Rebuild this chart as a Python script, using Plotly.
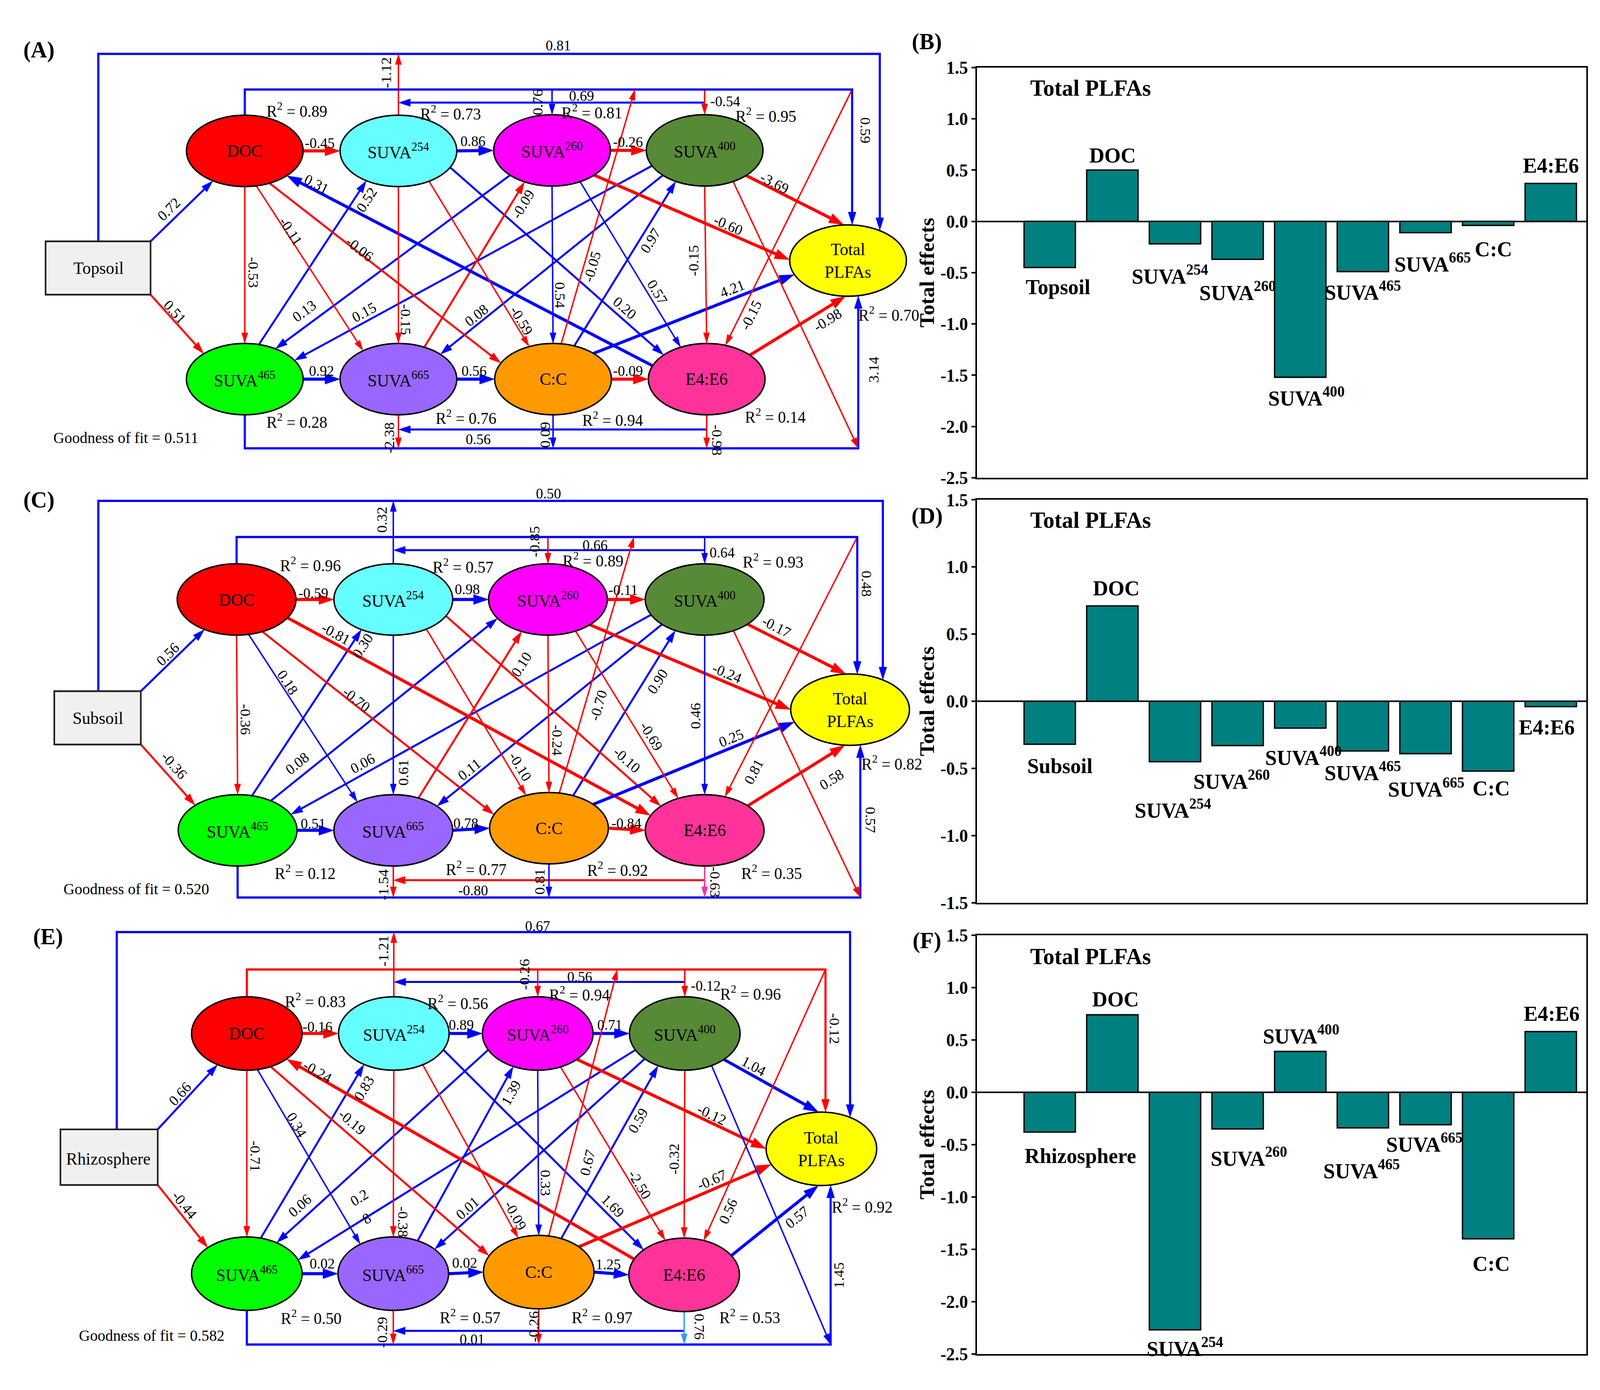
import math
import plotly.graph_objects as go

S = 2.725                      # screen pixels per layout unit
FIG_W, FIG_H = 4257, 3558
UW, UH = FIG_W / S, FIG_H / S
SERIF = "Liberation Serif"

BLUE, RED, PINK, LBLUE = "#0000ff", "#ff0000", "#ff3399", "#3399ff"
TEAL = "#008080"
TH, RT, MD, TN = 2.9, 2.1, 1.9, 1.4   # line-width classes (layout units)

# ---------------- (B)(D)(F): total effects on Total PLFAs ----------------
bar_names_B = ["Topsoil", "DOC", "SUVA<sup>254</sup>", "SUVA<sup>260</sup>", "SUVA<sup>400</sup>",
               "SUVA<sup>465</sup>", "SUVA<sup>665</sup>", "C:C", "E4:E6"]
bar_names_D = ["Subsoil"] + bar_names_B[1:]
bar_names_F = ["Rhizosphere"] + bar_names_B[1:]
total_effects_B = [-0.45, 0.50, -0.22, -0.37, -1.52, -0.49, -0.11, -0.04, 0.37]
total_effects_D = [-0.32, 0.71, -0.45, -0.33, -0.20, -0.37, -0.39, -0.52, -0.04]
total_effects_F = [-0.38, 0.74, -2.27, -0.35, 0.39, -0.34, -0.31, -1.40, 0.58]
ticks_BF = [1.5, 1.0, 0.5, 0.0, -0.5, -1.0, -1.5, -2.0, -2.5]
ticks_D = [1.5, 1.0, 0.5, 0.0, -0.5, -1.0, -1.5]

# label offsets (style only): dx, dy in layout units from bar end
lab_dx_B = [8, 0, -5, 0, 6, 0, 7, 5, 0]
lab_dy_B = [18, -14, 29, 30, 18, 18, 28, 22, -17]
lab_dx_D = [10, 4, -2, -6, 3, 0, 1, 3, -4]
lab_dy_D = [20, -17, 44, 32, 26, 19, 32, 16, 19]
lab_dx_F = [30, 3, 10, 11, 1, -1, -1, 3, 1]
lab_dy_F = [22, -15, 16, 26, -16, 39, 17, 23, -17]

# ---------------- (A)(C)(E): SEM path coefficients ----------------
coef_A = {
    "Box>DOC": 0.72, "Box>S465": 0.51, "DOC>S254": -0.45, "S254>S260": 0.86, "S260>S400": -0.26,
    "S465>S665": 0.92, "S665>CC": 0.56, "CC>E46": -0.09, "DOC>S465": -0.53, "DOC>S665": -0.11,
    "DOC>CC": -0.06, "E46>DOC": 0.31, "S465>S254": 0.52, "S254>S665": -0.15, "S254>CC": -0.59,
    "S254>E46": 0.20, "S260>S465": 0.13, "S665>S260": -0.09, "S260>CC": 0.54, "S260>E46": 0.57,
    "S260>TP": -0.60, "S400>S465": 0.15, "S400>S665": 0.08, "CC>S400": 0.97, "S400>E46": -0.15,
    "S400>TP": -3.69, "CC>TP": 4.21, "E46>TP": -0.98, "S400>BR": None, "Box>TP": 0.81,
    "DOC>TP": 0.59, "DOC>S260": 0.76, "DOC>S400": -0.54, "CC>TOP": -0.05, "TR>E46": -0.15,
    "S400>S254": 0.69, "S254>Box": -1.12, "S465>TP": 3.14, "E46>S665": 0.56, "S665>S465": -2.38,
    "CC>S465": 0.09, "E46>S465": -0.98,
}
coef_C = {
    "Box>DOC": 0.56, "Box>S465": -0.36, "DOC>S254": -0.59, "S254>S260": 0.98, "S260>S400": -0.11,
    "S465>S665": 0.51, "S665>CC": 0.78, "CC>E46": -0.84, "DOC>S465": -0.36, "DOC>S665": 0.18,
    "DOC>CC": -0.70, "DOC>E46": -0.81, "S465>S254": 0.30, "S254>S665": 0.61, "S465>S260": 0.08,
    "S400>S465": 0.06, "S665>S260": 0.10, "S400>S665": 0.11, "S254>CC": -0.10, "S260>CC": -0.24,
    "CC>TOP": -0.70, "CC>S400": 0.90, "S254>E46": -0.10, "S260>E46": -0.69, "S400>E46": 0.46,
    "S260>TP": -0.24, "S400>TP": -0.17, "CC>TP": 0.25, "E46>TP": 0.58, "TR>E46": 0.81,
    "S400>BR": None, "Box>TP": 0.50, "DOC>TP": 0.48, "DOC>S260": -0.85, "DOC>S400": 0.64,
    "S400>S254": 0.66, "S254>Box": 0.32, "S465>TP": 0.57, "E46>S665": -0.80, "S665>S465": -1.54,
    "CC>S465": 0.81, "E46>S465": -0.63,
}
coef_E = {
    "Box>DOC": 0.66, "Box>S465": -0.44, "DOC>S254": -0.16, "S254>S260": 0.89, "S260>S400": 0.71,
    "S465>S665": 0.02, "S665>CC": 0.02, "CC>E46": 1.25, "DOC>S465": -0.71, "DOC>S665": 0.34,
    "DOC>CC": -0.19, "E46>DOC": -0.24, "S465>S254": 0.83, "S254>S665": -0.38, "S260>S465": 0.06,
    "S400>S465": 0.28, "S665>S260": 1.39, "S400>S665": 0.01, "S254>CC": -0.09, "S260>CC": 0.33,
    "CC>TOP": 0.67, "CC>S400": 0.59, "S254>E46": 1.69, "S260>E46": -2.50, "S400>E46": -0.32,
    "S260>TP": -0.12, "S400>TP": 1.04, "CC>TP": -0.67, "E46>TP": 0.57, "TR>E46": 0.56,
    "S400>BR": None, "Box>TP": 0.67, "DOC>TP": -0.12, "DOC>S260": -0.26, "DOC>S400": -0.12,
    "S400>S254": 0.56, "S254>Box": -1.21, "S465>TP": 1.45, "E46>S665": 0.01, "S665>S465": -0.29,
    "CC>S465": -0.26, "E46>S465": 0.76,
}
r2_A = {"DOC": 0.89, "S254": 0.73, "S260": 0.81, "S400": 0.95, "TP": 0.70,
        "S465": 0.28, "S665": 0.76, "CC": 0.94, "E46": 0.14}
r2_C = {"DOC": 0.96, "S254": 0.57, "S260": 0.89, "S400": 0.93, "TP": 0.82,
        "S465": 0.12, "S665": 0.77, "CC": 0.92, "E46": 0.35}
r2_E = {"DOC": 0.83, "S254": 0.56, "S260": 0.94, "S400": 0.96, "TP": 0.92,
        "S465": 0.50, "S665": 0.57, "CC": 0.97, "E46": 0.53}
goodness_of_fit = [0.511, 0.520, 0.582]
soil_layers = ["Topsoil", "Subsoil", "Rhizosphere"]

node_text = {"DOC": "DOC", "S254": "SUVA<sup>254</sup>", "S260": "SUVA<sup>260</sup>",
             "S400": "SUVA<sup>400</sup>", "TP": "Total<br>PLFAs", "S465": "SUVA<sup>465</sup>",
             "S665": "SUVA<sup>665</sup>", "CC": "C:C", "E46": "E4:E6"}
node_fill = {"DOC": "#ff0000", "S254": "#66ffff", "S260": "#ff00ff", "S400": "#578a36",
             "TP": "#ffff00", "S465": "#00ff00", "S665": "#9966ff", "CC": "#ff9900", "E46": "#ff3399"}

# ---------------- diagram layout (positions / styles) ----------------
panel_A = dict(
    nodes={"DOC": (239, 134.5), "S254": (389, 134.5), "S260": (539, 134), "S400": (688, 134),
           "TP": (828, 239), "S465": (239, 352), "S665": (389, 352), "CC": (540, 352), "E46": (690, 352)},
    rx=57, ry=34, box=(44.5, 220.7, 147, 271.5), box_line_x=96, box_text=(96, 246),
    letter=("(A)", 38, 38),
    r2pos={"DOC": (290, 95.5), "S254": (440, 98), "S260": (578, 97), "S400": (748, 100.4), "TP": (868, 290),
           "S465": (290, 392), "S665": (455, 388), "CC": (598, 390), "E46": (757, 387)},
    gof_pos=(123, 408),
)
geom_A = {
    "Box>DOC": ([("box", "tr"), ("DOC", 123)], BLUE, MD, [(165, 190, None)]),
    "Box>S465": ([("box", "br"), ("S465", 225.4)], RED, MD, [(171, 288, None)]),
    "DOC>S254": ([("DOC", 0), ("S254", 180)], RED, TH, [(312, 127, 0)]),
    "S254>S260": ([("S254", 0), ("S260", 180)], BLUE, TH, [(462, 125, 0)]),
    "S260>S400": ([("S260", 0), ("S400", 180)], RED, TH, [(613, 126, 0)]),
    "S465>S665": ([("S465", 0), ("S665", 180)], BLUE, TH, [(314, 344, 0)]),
    "S665>CC": ([("S665", 0), ("CC", 180)], BLUE, TH, [(463, 344, 0)]),
    "CC>E46": ([("CC", 0), ("E46", 180)], RED, TH, [(613, 344, 0)]),
    "DOC>S465": ([("DOC", 90), ("S465", 270)], RED, TN, [(247, 250, 90)]),
    "DOC>S665": ([("DOC", 78.6), ("S665", 232.8)], RED, TN, [(284, 211, None)]),
    "DOC>CC": ([("DOC", 64.9), ("CC", 206.6)], RED, MD, [(351, 228, None)]),
    "E46>DOC": ([("E46", 202), ("DOC", 44)], BLUE, TH, [(309, 166, None)]),
    "S465>S254": ([("S465", 284), ("S254", 123.3)], BLUE, MD, [(358, 181, None)]),
    "S254>S665": ([("S254", 90), ("S665", 270)], RED, TN, [(396, 295, 90)]),
    "S254>CC": ([("S254", 58.3), ("CC", 245.8)], RED, TN, [(509, 296, None)]),
    "S254>E46": ([("S254", 27.5), ("E46", 222.5)], BLUE, MD, [(610, 284, None)]),
    "S260>S465": ([("S260", 135.9), ("S465", 301.7)], BLUE, MD, [(297, 287, None)]),
    "S665>S260": ([("S665", 296.4), ("S260", 118)], RED, MD, [(510.6, 185.4, None)]),
    "S260>CC": ([("S260", 90), ("CC", 270)], BLUE, TN, [(547, 272, 90)]),
    "S260>E46": ([("S260", 61.3), ("E46", 243.5)], BLUE, TN, [(642, 269, None)]),
    "S260>TP": ([("S260", 43.9), ("TP", 181)], RED, TH, [(711, 205, None)]),
    "S400>S465": ([("S400", 154.4), ("S465", 328.4)], BLUE, MD, [(355.5, 288, None)]),
    "S400>S665": ([("S400", 135.8), ("S665", 315.9)], BLUE, MD, [(465, 291, None)]),
    "CC>S400": ([("CC", 291.3), ("S400", 119.6)], BLUE, MD, [(635, 220, None)]),
    "S400>E46": ([("S400", 90), ("E46", 270)], RED, TN, [(677, 239, -90)]),
    "S400>TP": ([("S400", 44.7), ("TP", 266)], RED, TH, [(756, 165, None)]),
    "CC>TP": ([("CC", 313.9), ("TP", 156.9)], BLUE, TH, [(715, 266, None)]),
    "E46>TP": ([("E46", 317.7), ("TP", 92.4)], RED, TH, [(808, 295.5, None)]),
    "S400>BR": ([("S400", 60.8), (838, 418)], RED, TN, []),
    "Box>TP": ([("box", "top"), ("V", 42), (859, 42), ("Tx", "TP")], BLUE, RT, [(545, 34, 0)]),
    "DOC>TP": ([("T", "DOC"), ("V", 76), (832, 76), ("Tx", "TP")], BLUE, RT, [(845, 115, 90)]),
    "DOC>S260": ([("X", "S260", 76), ("T", "S260")], BLUE, TN, [(525, 88, -90)]),
    "DOC>S400": ([("X", "S400", 76), ("T", "S400")], RED, TN, [(708, 87, 0)]),
    "CC>TOP": ([("CC", 278), (620, 76)], RED, TN, [(578, 245, None)]),
    "TR>E46": ([(832, 76), ("E46", 288.7)], RED, TN, [(733, 291, None)]),
    "S400>S254": ([("X", "S400", 88.5), ("X", "S254", 88.5)], BLUE, MD, [(568, 82, 0)]),
    "S254>Box": ([("T", "S254"), ("V", 42)], RED, TN, [(377, 60, -90)]),
    "S465>TP": ([("B", "S465"), ("V", 418), (838, 418), ("Bx", "TP")], BLUE, RT, [(853, 343, -90)]),
    "E46>S665": ([("X", "E46", 400), ("X", "S665", 400)], BLUE, MD, [(467, 409, 0)]),
    "S665>S465": ([("B", "S665"), ("V", 418)], RED, TN, [(380, 408, -90)]),
    "CC>S465": ([("B", "CC"), ("V", 418)], BLUE, TN, [(532, 405, -90)]),
    "E46>S465": ([("B", "E46"), ("V", 418)], RED, TN, [(700, 410, 90)]),
}

panel_C = dict(
    nodes={"DOC": (231, 562), "S254": (384, 562), "S260": (535, 562), "S400": (688, 562),
           "TP": (830, 667), "S465": (232, 782), "S665": (384, 782), "CC": (536, 780), "E46": (688, 782)},
    rx=58, ry=34, box=(53, 649.4, 137.5, 700.2), box_line_x=96, box_text=(95.5, 675),
    letter=("(C)", 38, 467),
    r2pos={"DOC": (303, 528.5), "S254": (452, 530), "S260": (579, 524), "S400": (755, 525), "TP": (871, 717.6),
           "S465": (298, 822), "S665": (465, 818), "CC": (603, 819), "E46": (753.5, 822)},
    gof_pos=(133, 838),
)
geom_C = {
    "Box>DOC": ([("box", "tr"), ("DOC", 122.7)], BLUE, MD, [(164, 614, None)]),
    "Box>S465": ([("box", "br"), ("S465", 224.5)], RED, MD, [(170, 720, None)]),
    "DOC>S254": ([("DOC", 0), ("S254", 180)], RED, TH, [(306, 556, 0)]),
    "S254>S260": ([("S254", 0), ("S260", 180)], BLUE, TH, [(456.5, 552, 0)]),
    "S260>S400": ([("S260", 0), ("S400", 180)], RED, TH, [(608.6, 553, 0)]),
    "S465>S665": ([("S465", 0), ("S665", 180)], BLUE, TH, [(305.7, 775.6, 0)]),
    "S665>CC": ([("S665", 0), ("CC", 180)], BLUE, TH, [(455, 775, 0)]),
    "CC>E46": ([("CC", 0), ("E46", 180)], RED, TH, [(611.6, 775, 0)]),
    "DOC>S465": ([("DOC", 90), ("S465", 270)], RED, TN, [(240, 676, 90)]),
    "DOC>S665": ([("DOC", 78.3), ("S665", 232.8)], BLUE, TN, [(281, 641, None)]),
    "DOC>CC": ([("DOC", 64.3), ("CC", 202.4)], RED, MD, [(348, 657, None)]),
    "DOC>E46": ([("DOC", 30.9), ("E46", 204.5)], RED, TH, [(328, 594.5, None)]),
    "S465>S254": ([("S465", 284), ("S254", 122.4)], BLUE, MD, [(354, 606, None)]),
    "S254>S665": ([("S254", 90), ("S665", 270)], BLUE, TN, [(393.5, 727, -90)]),
    "S465>S260": ([("S465", 304), ("S260", 148.1)], BLUE, MD, [(290, 718, None)]),
    "S400>S465": ([("S400", 154.6), ("S465", 333.6)], BLUE, MD, [(354, 718, None)]),
    "S665>S260": ([("S665", 295.1), ("S260", 116.3)], RED, MD, [(509, 624, None)]),
    "S400>S665": ([("S400", 135.8), ("S665", 317.4)], BLUE, MD, [(458, 724, None)]),
    "S254>CC": ([("S254", 56.1), ("CC", 247.2)], RED, TN, [(508, 721, None)]),
    "S260>CC": ([("S260", 90), ("CC", 270)], RED, TN, [(544, 696, 90)]),
    "CC>TOP": ([("CC", 280), (619, 502.5)], RED, TN, [(584, 663, None)]),
    "CC>S400": ([("CC", 294), ("S400", 119.6)], BLUE, MD, [(642, 640, None)]),
    "S254>E46": ([("S254", 27.5), ("E46", 222.5)], RED, MD, [(612, 715, None)]),
    "S260>E46": ([("S260", 62.3), ("E46", 243.6)], RED, TN, [(636, 692, None)]),
    "S400>E46": ([("S400", 90), ("E46", 270)], BLUE, TN, [(679, 673, -90)]),
    "S260>TP": ([("S260", 45.1), ("TP", 180)], RED, TH, [(710, 632, None)]),
    "S400>TP": ([("S400", 43.8), ("TP", 266)], RED, TH, [(758, 588, None)]),
    "CC>TP": ([("CC", 318.1), ("TP", 159.8)], BLUE, TH, [(714, 694, None)]),
    "E46>TP": ([("E46", 316.5), ("TP", 95)], RED, TH, [(812, 733.5, None)]),
    "TR>E46": ([(837, 502.5), ("E46", 289.9)], RED, TN, [(736, 726, None)]),
    "S400>BR": ([("S400", 61), (840, 846)], RED, TN, []),
    "Box>TP": ([("box", "top"), ("V", 468), (862, 468), ("Tx", "TP")], BLUE, RT, [(535.5, 461, 0)]),
    "DOC>TP": ([("T", "DOC"), ("V", 502.5), (837, 502.5), ("Tx", "TP")], BLUE, RT, [(846, 547, 90)]),
    "DOC>S260": ([("X", "S260", 502.5), ("T", "S260")], RED, TN, [(522, 507, -90)]),
    "DOC>S400": ([("X", "S400", 502.5), ("T", "S400")], BLUE, TN, [(705, 517, 0)]),
    "S400>S254": ([("X", "S400", 515), ("X", "S254", 515)], BLUE, MD, [(581, 510, 0)]),
    "S254>Box": ([("T", "S254"), ("V", 468)], BLUE, TN, [(373, 486, -90)]),
    "S465>TP": ([("B", "S465"), ("V", 846), (840, 846), ("Bx", "TP")], BLUE, RT, [(850, 772, 90)]),
    "E46>S665": ([("X", "E46", 829.5), ("X", "S665", 829.5)], RED, MD, [(462, 839, 0)]),
    "S665>S465": ([("B", "S665"), ("V", 846)], RED, TN, [(374.5, 834, -90)]),
    "CC>S465": ([("B", "CC"), ("V", 846)], BLUE, TN, [(527, 831, -90)]),
    "E46>S465": ([("B", "E46"), ("V", 846)], PINK, TN, [(698, 831, 90)]),
}

panel_E = dict(
    nodes={"DOC": (241, 975.6), "S254": (384.5, 975.6), "S260": (525, 975.6), "S400": (668.6, 975.6),
           "TP": (802, 1085.5), "S465": (241, 1204.5), "S665": (384, 1204.5), "CC": (526, 1203),
           "E46": (668, 1205.6)},
    rx=54, ry=35, box=(59, 1067, 154, 1120), box_line_x=114, box_text=(106, 1095),
    letter=("(E)", 47, 883),
    r2pos={"DOC": (308, 944), "S254": (447, 946), "S260": (566, 937.7), "S400": (733, 937), "TP": (842, 1140),
           "S465": (304, 1246), "S665": (459, 1245), "CC": (588, 1245), "E46": (732, 1245)},
    gof_pos=(148, 1263.5),
)
geom_E = {
    "Box>DOC": ([("box", "tr"), ("DOC", 121.9)], BLUE, MD, [(175.5, 1033, None)]),
    "Box>S465": ([("box", "br"), ("S465", 225.1)], RED, MD, [(180, 1139, None)]),
    "DOC>S254": ([("DOC", 0), ("S254", 180)], RED, TH, [(310, 969.3, 0)]),
    "S254>S260": ([("S254", 0), ("S260", 180)], BLUE, TH, [(450.6, 967.2, 0)]),
    "S260>S400": ([("S260", 0), ("S400", 180)], BLUE, TH, [(595.5, 967.2, 0)]),
    "S465>S665": ([("S465", 0), ("S665", 180)], BLUE, TH, [(314.5, 1194.8, 0)]),
    "S665>CC": ([("S665", 0), ("CC", 180)], BLUE, TH, [(453.6, 1194, 0)]),
    "CC>E46": ([("CC", 0), ("E46", 180)], BLUE, TH, [(594, 1195.5, 0)]),
    "DOC>S465": ([("DOC", 90), ("S465", 270)], RED, TN, [(249, 1092.5, 90)]),
    "DOC>S665": ([("DOC", 79), ("S665", 233.3)], BLUE, TN, [(289.6, 1062.7, None)]),
    "DOC>CC": ([("DOC", 64.5), ("CC", 206.3)], RED, MD, [(343.8, 1060, None)]),
    "E46>DOC": ([("E46", 205.3), ("DOC", 44.2)], RED, TH, [(310, 1012, None)]),
    "S465>S254": ([("S465", 284.6), ("S254", 122.6)], BLUE, MD, [(355.5, 1027.6, None)]),
    "S254>S665": ([("S254", 90), ("S665", 270)], RED, TN, [(393.5, 1155, 90)]),
    "S260>S465": ([("S260", 153.5), ("S465", 302.6)], BLUE, MD, [(292.6, 1139.5, None)]),
    "S400>S465": ([("S400", 153.3), ("S465", 338)], BLUE, MD,
                  [("0.2", 351, 1132, None), ("8", 358, 1152, None)]),
    "S665>S260": ([("S665", 296.2), ("S260", 116.2)], BLUE, MD, [(499, 1032, None)]),
    "S400>S665": ([("S400", 136.4), ("S665", 318.3)], BLUE, MD, [(456.5, 1141.8, None)]),
    "S254>CC": ([("S254", 58.4), ("CC", 248.2)], RED, TN, [(503.3, 1149, None)]),
    "S260>CC": ([("S260", 90), ("CC", 270)], BLUE, TN, [(532.6, 1118, 90)]),
    "CC>TOP": ([("CC", 280.4), (602.8, 914.6)], RED, TN, [(573.5, 1098.5, None)]),
    "CC>S400": ([("CC", 294), ("S400", 118.8)], BLUE, MD, [(623, 1058.5, None)]),
    "S254>E46": ([("S254", 26.3), ("E46", 222.9)], BLUE, MD, [(598.4, 1140, None)]),
    "S260>E46": ([("S260", 65.6), ("E46", 250)], RED, TN, [(624.7, 1119.4, None)]),
    "S400>E46": ([("S400", 90), ("E46", 270)], RED, TN, [(658.4, 1095.5, -90)]),
    "S260>TP": ([("S260", 44.7), ("TP", 180)], RED, TH, [(695, 1053, None)]),
    "S400>TP": ([("S400", 45), ("TP", 267)], BLUE, TH, [(736, 1006.6, None)]),
    "CC>TP": ([("CC", 316.5), ("TP", 154.9)], RED, TH, [(695, 1115, None)]),
    "E46>TP": ([("E46", 328.5), ("TP", 93)], BLUE, TH, [(778, 1150.7, None)]),
    "TR>E46": ([(806, 914.6), ("E46", 290.7)], RED, TN, [(711, 1145, None)]),
    "S400>BR": ([("S400", 61), (811, 1272)], BLUE, TN, []),
    "Box>TP": ([("box", "top"), ("V", 879), (830, 879), ("Tx", "TP")], BLUE, RT, [(525, 873, 0)]),
    "DOC>TP": ([("T", "DOC"), ("V", 914.6), (806, 914.6), ("Tx", "TP")], RED, RT, [(815, 971, 90)]),
    "DOC>S260": ([("X", "S260", 914.6), ("T", "S260")], RED, TN, [(512, 919.5, -90)]),
    "DOC>S400": ([("X", "S400", 914.6), ("T", "S400")], RED, TN, [(689, 930, 0)]),
    "S400>S254": ([("X", "S400", 926.5), ("X", "S254", 926.5)], BLUE, MD, [(566, 921.6, 0)]),
    "S254>Box": ([("T", "S254"), ("V", 879)], RED, TN, [(374.5, 897, -90)]),
    "S465>TP": ([("B", "S465"), ("V", 1272), (811, 1272), ("Bx", "TP")], BLUE, RT, [(819, 1206, -90)]),
    "E46>S665": ([("X", "E46", 1259), ("X", "S665", 1259)], BLUE, MD, [(461, 1267, 0)]),
    "S665>S465": ([("B", "S665"), ("V", 1272)], RED, TN, [(373, 1260.5, -90)]),
    "CC>S465": ([("B", "CC"), ("V", 1272)], RED, TN, [(521, 1255, -90)]),
    "E46>S465": ([("B", "E46"), ("V", 1272)], LBLUE, TN, [(683, 1255, 90)]),
}


def resolve(path, P):
    nodes, rx, ry = P["nodes"], P["rx"], P["ry"]
    bx0, by0, bx1, by1 = P["box"]
    pts = []
    for p in path:
        k = p[0]
        if k == "box":
            pt = {"tr": (bx1, by0), "br": (bx1, by1), "top": (P["box_line_x"], by0)}[p[1]]
        elif k in ("T", "B", "Tx", "Bx"):
            cx, cy = nodes[p[1]]
            x = cx if k in ("T", "B") else pts[-1][0]
            h = ry * math.sqrt(max(0.0, 1 - ((x - cx) / rx) ** 2))
            pt = (x, cy - h if k.startswith("T") else cy + h)
        elif k == "V":
            pt = (pts[-1][0], p[1])
        elif k == "X":
            pt = (nodes[p[1]][0], p[2])
        elif isinstance(k, str):
            cx, cy = nodes[k]
            a = math.radians(p[1])
            pt = (cx + rx * math.cos(a), cy + ry * math.sin(a))
        else:
            pt = (float(p[0]), float(p[1]))
        pts.append(pt)
    return pts


def seg_angle(pts, lx, ly):
    best, ang = 1e18, 0.0
    for (x1, y1), (x2, y2) in zip(pts[:-1], pts[1:]):
        dx, dy = x2 - x1, y2 - y1
        L2 = dx * dx + dy * dy or 1e-9
        t = max(0.0, min(1.0, ((lx - x1) * dx + (ly - y1) * dy) / L2))
        d = math.hypot(lx - (x1 + t * dx), ly - (y1 + t * dy))
        if d < best:
            best = d
            ang = math.degrees(math.atan2(dy, dx))
    while ang > 90:
        ang -= 180
    while ang <= -90:
        ang += 180
    return ang


fig = go.Figure()
shapes, annos = [], []
line_groups, tri_groups = {}, {}


def fmt(v):
    return f"{v:.2f}"


def txt(x, y, text, size, angle=0, bold=False, xanchor="center"):
    annos.append(dict(x=x, y=y, xref="x4", yref="y4", text=("<b>%s</b>" % text) if bold else text,
                      showarrow=False, textangle=angle, xanchor=xanchor, yanchor="middle",
                      font=dict(family=SERIF, size=size * S, color="black")))


panels = [(panel_A, geom_A, coef_A, r2_A), (panel_C, geom_C, coef_C, r2_C), (panel_E, geom_E, coef_E, r2_E)]
for idx, (P, geom, coefs, r2) in enumerate(panels):
    for key, (path, color, w, labels) in geom.items():
        pts = resolve(path, P)
        (x1, y1), (x2, y2) = pts[-2], pts[-1]
        d = math.hypot(x2 - x1, y2 - y1) or 1e-9
        ux, uy = (x2 - x1) / d, (y2 - y1) / d
        L, hw = 6 + 3 * w, 1.5 + 1.15 * w
        bxp, byp = x2 - ux * L, y2 - uy * L
        lp = pts[:-1] + [(x2 - ux * L * 0.7, y2 - uy * L * 0.7)]
        g = line_groups.setdefault((color, w), ([], []))
        g[0].extend([p[0] for p in lp] + [None])
        g[1].extend([p[1] for p in lp] + [None])
        t = tri_groups.setdefault(color, ([], []))
        tri = [(x2, y2), (bxp - uy * hw, byp + ux * hw), (bxp + uy * hw, byp - ux * hw), (x2, y2)]
        t[0].extend([p[0] for p in tri] + [None])
        t[1].extend([p[1] for p in tri] + [None])
        for lab in labels:
            if len(lab) == 3:
                text, (lx, ly, ang) = fmt(coefs[key]), lab
            else:
                text, lx, ly, ang = lab
            if ang is None:
                ang = seg_angle(pts, lx, ly)
            txt(lx, ly, text, 14, ang)
    # nodes
    rx, ry = P["rx"], P["ry"]
    for n, (cx, cy) in P["nodes"].items():
        shapes.append(dict(type="circle", xref="x4", yref="y4", x0=cx - rx, x1=cx + rx,
                           y0=cy - ry, y1=cy + ry, fillcolor=node_fill[n], layer="above",
                           line=dict(color="black", width=1.4 * S)))
        txt(cx, cy, node_text[n], 16.5)
        rxp, ryp = P["r2pos"][n]
        txt(rxp, ryp, "R<sup>2</sup> = %.2f" % r2[n], 15.5)
    bx0, by0, bx1, by1 = P["box"]
    shapes.append(dict(type="rect", xref="x4", yref="y4", x0=bx0, x1=bx1, y0=by0, y1=by1,
                       fillcolor="#f0f0f0", layer="above", line=dict(color="#222222", width=1.6 * S)))
    txt(P["box_text"][0], P["box_text"][1], soil_layers[idx], 16.5)
    txt(P["gof_pos"][0], P["gof_pos"][1], "Goodness of fit = %.3f" % goodness_of_fit[idx], 15)
    lt, lx, ly = P["letter"]
    txt(lx, ly, lt, 22, bold=True)

for (color, w), (xs, ys) in line_groups.items():
    fig.add_trace(go.Scatter(x=xs, y=ys, mode="lines", xaxis="x4", yaxis="y4", hoverinfo="skip",
                             showlegend=False, line=dict(color=color, width=w * S)))
for color, (xs, ys) in tri_groups.items():
    fig.add_trace(go.Scatter(x=xs, y=ys, mode="lines", fill="toself", fillcolor=color, xaxis="x4",
                             yaxis="y4", hoverinfo="skip", showlegend=False,
                             line=dict(color=color, width=0.5)))

# ---------------- bar charts ----------------
bar_panels = [
    ("", bar_names_B, total_effects_B, ticks_BF, lab_dx_B, lab_dy_B, (55, 446), ("(B)", 905, 30)),
    ("2", bar_names_D, total_effects_D, ticks_D, lab_dx_D, lab_dy_D, (467, 851), ("(D)", 905, 482)),
    ("3", bar_names_F, total_effects_F, ticks_BF, lab_dx_F, lab_dy_F, (882, 1281), ("(F)", 905, 887)),
]
X_LEFT, X_RIGHT = 954, 1549
layout_axes = {}
for sfx, names, vals, ticks, ldx, ldy, (top, bot), (lt, lx, ly) in bar_panels:
    xa, ya = "x" + sfx, "y" + sfx
    fig.add_trace(go.Bar(x=list(range(len(vals))), y=vals, xaxis=xa, yaxis=ya, width=0.82,
                         marker=dict(color=TEAL, line=dict(color="black", width=1.3 * S)),
                         showlegend=False, hoverinfo="skip"))
    layout_axes["xaxis" + sfx] = dict(domain=[X_LEFT / UW, X_RIGHT / UW], anchor=ya, range=[-1.16, 8.57],
                                      showgrid=False, zeroline=False, showticklabels=False, ticks="",
                                      showline=True, mirror=True, linecolor="black", linewidth=1.5 * S)
    layout_axes["yaxis" + sfx] = dict(domain=[1 - bot / UH, 1 - top / UH], anchor=xa,
                                      range=[min(ticks), max(ticks)], tickvals=ticks,
                                      ticktext=["%.1f" % t for t in ticks], ticks="outside",
                                      ticklen=4 * S, tickwidth=1.5 * S, tickcolor="black",
                                      showgrid=False, zeroline=True, zerolinecolor="black",
                                      zerolinewidth=1.5 * S, showline=True, mirror=True,
                                      linecolor="black", linewidth=1.5 * S,
                                      tickfont=dict(family=SERIF, size=17 * S, color="black", weight="bold"),
                                      title=dict(text="<b>Total effects</b>", standoff=0,
                                                 font=dict(family=SERIF, size=20 * S, color="black")))
    for i, (nm, v) in enumerate(zip(names, vals)):
        annos.append(dict(x=i, y=v, xref=xa, yref=ya, text="<b>%s</b>" % nm, showarrow=False,
                          xshift=ldx[i] * S, yshift=-ldy[i] * S, yanchor="middle",
                          font=dict(family=SERIF, size=20.5 * S, color="black")))
    annos.append(dict(x=0.086, y=0.95, xref=xa + " domain", yref=ya + " domain", text="<b>Total PLFAs</b>",
                      showarrow=False, xanchor="left", yanchor="middle",
                      font=dict(family=SERIF, size=22 * S, color="black")))
    txt(lx, ly, lt, 22, bold=True)

fig.update_layout(
    width=FIG_W, height=FIG_H, margin=dict(l=0, r=0, t=0, b=0),
    paper_bgcolor="white", plot_bgcolor="rgba(0,0,0,0)", showlegend=False,
    xaxis4=dict(domain=[0, 1], anchor="y4", range=[0, UW], visible=False, fixedrange=True),
    yaxis4=dict(domain=[0, 1], anchor="x4", range=[UH, 0], visible=False, fixedrange=True),
    shapes=shapes, annotations=annos,
    **layout_axes,
)

# stretch the fixed-size figure so that it exactly fills the viewport it is shown in
fit_js = """
var gd = document.getElementById('{plot_id}');
document.documentElement.style.margin = '0';
document.body.style.margin = '0';
document.body.style.overflow = 'hidden';
var vw = Math.min(window.innerWidth, document.documentElement.clientWidth || window.innerWidth);
var vh = Math.min(window.innerHeight, document.documentElement.clientHeight || window.innerHeight);
var sx = vw / %d, sy = vh / %d;
if (Math.abs(sx - 1) > 0.001 || Math.abs(sy - 1) > 0.001) {
  gd.style.transformOrigin = '0 0';
  gd.style.transform = 'scale(' + sx + ',' + sy + ')';
}
""" % (FIG_W, FIG_H)
fig.write_html("out.html", post_script=fit_js, config={"displayModeBar": False, "staticPlot": True})
